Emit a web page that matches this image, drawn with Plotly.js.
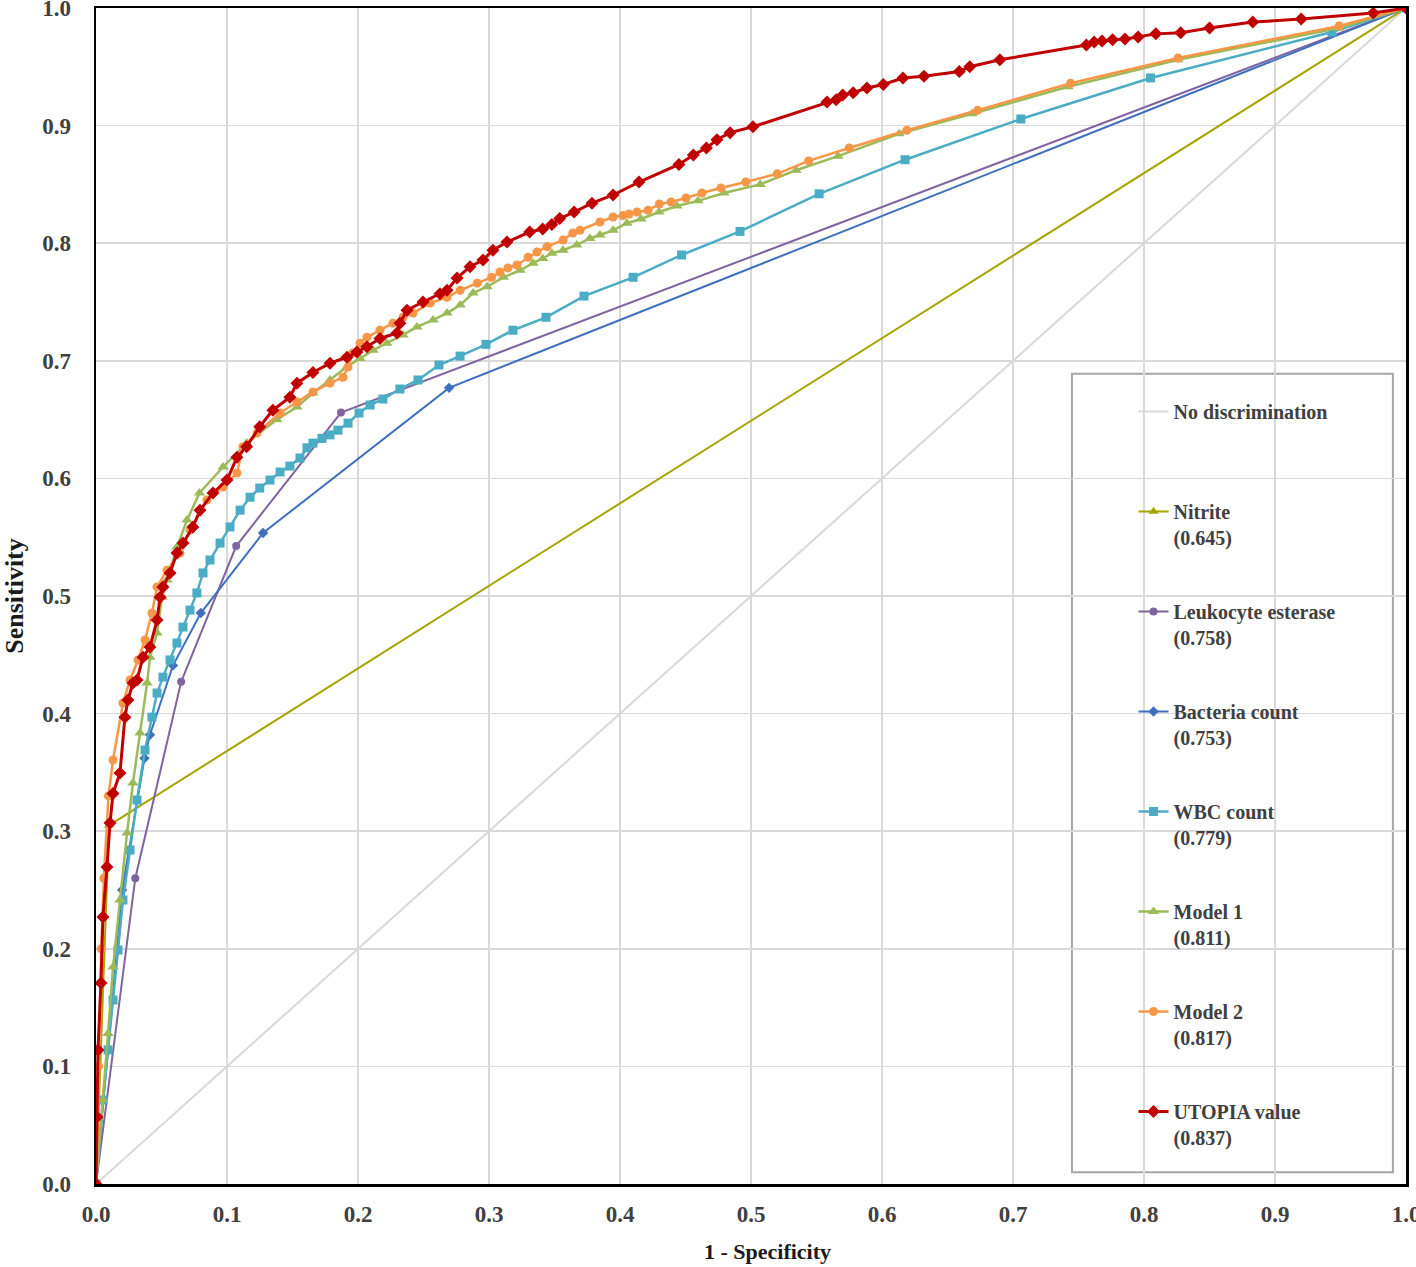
<!DOCTYPE html>
<html>
<head>
<meta charset="utf-8">
<script src="https://cdn.plot.ly/plotly-3.0.1.min.js"></script>
<style>html,body{margin:0;padding:0;background:#fff;}#chart{width:1416px;height:1267px;}</style>
</head>
<body>
<div id="chart"></div>
<script>
// ---- Data ----
const seriesNames = ["No discrimination", "Nitrite", "Leukocyte esterase", "Bacteria count", "WBC count", "Model 1", "Model 2", "UTOPIA value"];
const aucLabels = ["", "0.645", "0.758", "0.753", "0.779", "0.811", "0.817", "0.837"];

const diagX = [0, 1];
const diagY = [0, 1];

const nitriteX = [0, 0.010, 1.0];
const nitriteY = [0, 0.305, 1.0];

const leukoX = [0, 0.030, 0.065, 0.107, 0.187, 1.0];
const leukoY = [0, 0.260, 0.427, 0.5425, 0.656, 1.0];

const bactX = [0, 0.020, 0.037, 0.0412, 0.0588, 0.080, 0.1275, 0.2695, 1.0];
const bactY = [0, 0.250, 0.362, 0.382, 0.441, 0.4855, 0.5536, 0.677, 1.0];

const wbcX = [0, 0.0053, 0.0092, 0.013, 0.0168, 0.0206, 0.026, 0.0313, 0.0374, 0.0427, 0.0466, 0.0511, 0.0565, 0.0618, 0.0664, 0.0718, 0.077, 0.0817, 0.087, 0.0947, 0.1023, 0.110, 0.1176, 0.125, 0.1328, 0.1405, 0.148, 0.1557, 0.161, 0.1656, 0.1725, 0.1786, 0.1847, 0.1924, 0.2008, 0.2092, 0.219, 0.232, 0.2458, 0.2618, 0.2779, 0.2977, 0.3183, 0.3435, 0.3725, 0.410, 0.447, 0.4916, 0.552, 0.6176, 0.706, 0.805, 0.9435, 1.0];
const wbcY = [0, 0.0714, 0.114, 0.1565, 0.199, 0.2415, 0.284, 0.3265, 0.369, 0.397, 0.4175, 0.431, 0.4456, 0.46, 0.4736, 0.488, 0.5026, 0.5196, 0.5306, 0.545, 0.5587, 0.573, 0.584, 0.5918, 0.5986, 0.6054, 0.6105, 0.6173, 0.626, 0.630, 0.634, 0.637, 0.641, 0.647, 0.6556, 0.6624, 0.6675, 0.676, 0.6837, 0.6964, 0.704, 0.714, 0.726, 0.737, 0.755, 0.771, 0.790, 0.810, 0.842, 0.871, 0.9056, 0.9405, 0.9796, 1.0];

const model1X = [0, 0.0053, 0.0092, 0.013, 0.0183, 0.0237, 0.0282, 0.0336, 0.039, 0.0412, 0.0466, 0.0504, 0.0542, 0.0618, 0.0695, 0.079, 0.097, 0.115, 0.138, 0.1534, 0.1656, 0.1786, 0.1916, 0.2015, 0.2115, 0.222, 0.2344, 0.245, 0.2573, 0.268, 0.278, 0.2878, 0.2985, 0.311, 0.3237, 0.3336, 0.341, 0.348, 0.3565, 0.367, 0.377, 0.3847, 0.3947, 0.4053, 0.416, 0.4298, 0.4435, 0.4595, 0.4794, 0.507, 0.5344, 0.5664, 0.613, 0.6687, 0.742, 0.826, 0.949, 1.0];
const model1Y = [0, 0.0714, 0.128, 0.1845, 0.2415, 0.2985, 0.341, 0.3835, 0.426, 0.448, 0.4685, 0.499, 0.5136, 0.5417, 0.5646, 0.5876, 0.6097, 0.630, 0.650, 0.6607, 0.6726, 0.6837, 0.695, 0.702, 0.709, 0.715, 0.722, 0.7288, 0.7347, 0.7406, 0.7475, 0.7576, 0.763, 0.771, 0.777, 0.783, 0.787, 0.7915, 0.794, 0.7985, 0.804, 0.807, 0.811, 0.817, 0.8206, 0.8265, 0.8316, 0.836, 0.8427, 0.850, 0.862, 0.874, 0.893, 0.910, 0.933, 0.956, 0.983, 1.0];

const model2X = [0, 0.002, 0.004, 0.006, 0.0095, 0.013, 0.0206, 0.026, 0.0321, 0.0374, 0.0427, 0.0466, 0.0542, 0.0641, 0.0718, 0.0847, 0.097, 0.1076, 0.1122, 0.1229, 0.1405, 0.1534, 0.1656, 0.1786, 0.1886, 0.1924, 0.196, 0.2015, 0.2068, 0.2168, 0.2267, 0.2344, 0.242, 0.255, 0.268, 0.278, 0.291, 0.302, 0.3084, 0.3145, 0.3214, 0.3298, 0.3366, 0.3443, 0.3566, 0.364, 0.3695, 0.3847, 0.3947, 0.4023, 0.4069, 0.413, 0.4214, 0.430, 0.439, 0.4504, 0.4625, 0.477, 0.496, 0.520, 0.544, 0.575, 0.619, 0.673, 0.744, 0.826, 0.949, 1.0];
const model2Y = [0, 0.100, 0.200, 0.260, 0.330, 0.3605, 0.409, 0.4286, 0.4456, 0.4626, 0.4855, 0.5077, 0.522, 0.5366, 0.556, 0.5816, 0.5927, 0.6046, 0.627, 0.6386, 0.6556, 0.665, 0.6735, 0.681, 0.686, 0.6947, 0.7066, 0.715, 0.720, 0.726, 0.732, 0.737, 0.7406, 0.749, 0.754, 0.760, 0.766, 0.771, 0.7755, 0.779, 0.7815, 0.788, 0.7925, 0.797, 0.8027, 0.8087, 0.811, 0.818, 0.8223, 0.8235, 0.8248, 0.8265, 0.828, 0.8333, 0.835, 0.8384, 0.8427, 0.847, 0.852, 0.859, 0.870, 0.881, 0.896, 0.913, 0.936, 0.9575, 0.9847, 1.0];

const utopiaX = [0, 0.0008, 0.0015, 0.0038, 0.0053, 0.0084, 0.0107, 0.013, 0.0183, 0.0221, 0.0244, 0.0282, 0.0313, 0.0359, 0.0412, 0.0466, 0.0489, 0.0511, 0.0565, 0.0618, 0.0664, 0.0740, 0.0794, 0.0893, 0.100, 0.1076, 0.115, 0.125, 0.135, 0.148, 0.1534, 0.1656, 0.1786, 0.1916, 0.1992, 0.2068, 0.2168, 0.2298, 0.232, 0.2374, 0.2496, 0.2626, 0.268, 0.2756, 0.2855, 0.2954, 0.303, 0.3137, 0.331, 0.341, 0.348, 0.354, 0.365, 0.3786, 0.3947, 0.4145, 0.445, 0.456, 0.466, 0.474, 0.484, 0.5015, 0.558, 0.565, 0.570, 0.578, 0.5885, 0.601, 0.616, 0.632, 0.659, 0.667, 0.690, 0.756, 0.762, 0.768, 0.776, 0.7855, 0.7955, 0.809, 0.828, 0.850, 0.883, 0.920, 0.975, 1.0];
const utopiaY = [0, 0.057, 0.114, 0.171, 0.227, 0.2696, 0.307, 0.332, 0.3495, 0.397, 0.4116, 0.426, 0.4286, 0.448, 0.4566, 0.4796, 0.499, 0.5077, 0.5196, 0.5366, 0.545, 0.5587, 0.573, 0.5876, 0.5986, 0.618, 0.627, 0.644, 0.658, 0.669, 0.681, 0.690, 0.698, 0.703, 0.7075, 0.712, 0.719, 0.7236, 0.732, 0.743, 0.750, 0.757, 0.760, 0.7704, 0.780, 0.7857, 0.794, 0.801, 0.8095, 0.812, 0.816, 0.821, 0.8265, 0.834, 0.841, 0.852, 0.867, 0.875, 0.881, 0.888, 0.894, 0.899, 0.920, 0.922, 0.926, 0.928, 0.932, 0.935, 0.9405, 0.942, 0.946, 0.950, 0.956, 0.9685, 0.971, 0.972, 0.973, 0.9737, 0.9754, 0.978, 0.979, 0.983, 0.988, 0.9906, 0.9957, 1.0];

const tickVals = [0, 0.1, 0.2, 0.3, 0.4, 0.5, 0.6, 0.7, 0.8, 0.9, 1.0];
const tickText = ["0.0", "0.1", "0.2", "0.3", "0.4", "0.5", "0.6", "0.7", "0.8", "0.9", "1.0"];

// ---- Styles ----
const FONT = "'Liberation Serif', 'Times New Roman', serif";
const TXT = "#404040";
const TITLE = "#1a1a1a";

function label(i) {
  return aucLabels[i] ? seriesNames[i] + "<br>(" + aucLabels[i] + ")" : seriesNames[i] + "<br>&nbsp;";
}

function mk(i, xs, ys, color, width, symbol, size) {
  const t = {
    x: xs, y: ys, name: label(i), legendgroup: "g" + i,
    type: "scatter", mode: symbol ? "lines+markers" : "lines",
    line: {color: color, width: width},
    hoverinfo: "x+y"
  };
  if (symbol) t.marker = {symbol: symbol, size: size, color: color};
  return t;
}

const traces = [
  mk(0, diagX, diagY, "#D9D9D9", 2, null, 0),
  mk(1, nitriteX, nitriteY, "#A5A500", 2, "triangle-up", 9),
  mk(2, leukoX, leukoY, "#8064A2", 2, "circle", 8),
  mk(3, bactX, bactY, "#3F70BF", 2, "diamond", 8),
  mk(4, wbcX, wbcY, "#4BACC6", 2.5, "square", 9),
  mk(5, model1X, model1Y, "#9BBB59", 2.5, "triangle-up", 10),
  mk(6, model2X, model2Y, "#F79646", 2.5, "circle", 9),
  mk(7, utopiaX, utopiaY, "#C00000", 3, "diamond", 10)
];

const axisCommon = {
  range: [0, 1], tickvals: tickVals, ticktext: tickText,
  showgrid: true, gridcolor: "#D9D9D9", gridwidth: 1.5,
  zeroline: false, showline: true, mirror: true, linecolor: "#000", linewidth: 2.5,
  ticks: "", tickfont: {family: FONT, size: 23, color: TXT, weight: "bold"},
  ticklabeloverflow: "allow",
  fixedrange: true
};

const layout = {
  width: 1416, height: 1267,
  margin: {l: 96, r: 10, t: 8, b: 83},
  paper_bgcolor: "#fff", plot_bgcolor: "#fff",
  font: {family: FONT, color: TXT},
  xaxis: Object.assign({}, axisCommon, {
    ticklabelstandoff: 8,
    title: {text: "<b>&nbsp;&nbsp;&nbsp;&nbsp;&nbsp;&nbsp;1 - Specificity</b>", font: {family: FONT, size: 22, color: TITLE}, standoff: 18}
  }),
  yaxis: Object.assign({}, axisCommon, {
    ticklabelstandoff: 18,
    title: {text: "<b>Sensitivity</b>", font: {family: FONT, size: 26, color: TITLE}, standoff: 14}
  }),
  showlegend: true,
  legend: {
    x: 0.792, y: 0.6735, xanchor: "left", yanchor: "top",
    bgcolor: "rgba(0,0,0,0)", borderwidth: 0,
    font: {family: FONT, size: 20, color: TXT, weight: "bold"},
    valign: "top", traceorder: "grouped", tracegroupgap: 45, itemwidth: 30
  },
  shapes: [{
    type: "rect", xref: "paper", yref: "paper",
    x0: 0.745, x1: 0.990, y0: 0.010, y1: 0.689,
    line: {color: "#A6A6A6", width: 2}, fillcolor: "rgba(255,255,255,1)", layer: "below"
  }]
};

Plotly.newPlot("chart", traces, layout, {displayModeBar: false, staticPlot: true});
</script>
</body>
</html>
